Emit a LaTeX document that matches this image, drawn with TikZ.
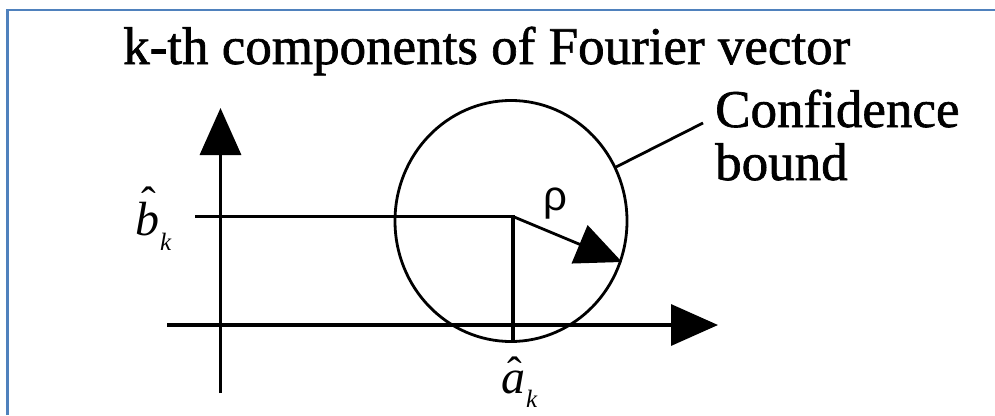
\documentclass[tikz,border=0pt]{standalone}
\usepackage{fontspec}
\setmainfont{Liberation Serif}
\newfontfamily\heavyserif{Liberation Serif}[FakeBold=1.2]
\newfontfamily\rhofont{Liberation Sans}
\usetikzlibrary{arrows.meta,calc}
\definecolor{frameblue}{RGB}{79,129,189}
\newsavebox\hatletterbox
\newcommand{\hatit}[3]{% #1 letter, #2 hat raise, #3 subscript drop
  \sbox\hatletterbox{\itshape #1}%
  \rlap{\hbox to\wd\hatletterbox{\hss\kern3pt\raisebox{#2}{\fontsize{44}{44}\selectfont ˆ}\hss}}%
  \usebox\hatletterbox\kern1pt
  \raisebox{-#3}{\fontsize{25}{25}\selectfont\itshape k}}
\tikzset{
  axisline/.style={line width=3.4pt},
  fineline/.style={line width=2.8pt},
  bigtip/.style={-{Triangle[length=47pt,width=41pt]}},
  lab/.style={inner sep=0pt, anchor=base west},
  bigtext/.style={font=\heavyserif\fontsize{53}{53}\selectfont},
  mathlab/.style={font=\fontsize{48}{48}\selectfont},
}
\begin{document}
\begin{tikzpicture}[x=1pt,y=-1pt]
\useasboundingbox (0,0) rectangle (995,415);
% frame
\draw[line width=2.2pt, draw=frameblue] (7.5,415) -- (7.5,10) -- (995,10);
% coordinates
\coordinate (vB) at (220.5,393);
\coordinate (vT) at (220.5,108);
\coordinate (hL) at (167,325);
\coordinate (hR) at (718,325);
\coordinate (bL) at (195,216.5);
\coordinate (C)  at (513,216.5);
\coordinate (aB) at (513,341.5);
\coordinate (E)  at (511,221);
\coordinate (rT) at (622,262);
\coordinate (cbpt) at (616,167);
% title
\node[lab, bigtext] (title) at (123,64) {k-th components of Fourier vector};
% axes
\draw[axisline, bigtip] (vB) -- (vT);
\draw[axisline, bigtip] (hL) -- (hR);
% component lines
\draw[axisline] (bL) -- (C) -- (aB);
% confidence circle
\draw[fineline] (E) ellipse [x radius=116pt, y radius=120.5pt];
% radius arrow
\draw[fineline, -{Triangle[length=46pt,width=41pt]}] (C) -- (rT);
\node[font=\rhofont\fontsize{42}{42}\selectfont, inner sep=0pt, anchor=base] (rho) at (555,210) {ρ};
% labels
\node[lab, mathlab] (bk) at (135,235) {\hatit{b}{18pt}{15pt}};
\node[lab, mathlab] (ak) at (501,393) {\hatit{a}{6pt}{14pt}};
% confidence bound label
\node[lab, bigtext] (conf) at (715,127) {Confidence};
\node[lab, bigtext] (bound) at (715,180) {bound};
\coordinate (lead) at ($(conf.base west)+(-12,-4)$);
\draw[fineline] (cbpt) -- (lead);
\end{tikzpicture}
\end{document}
